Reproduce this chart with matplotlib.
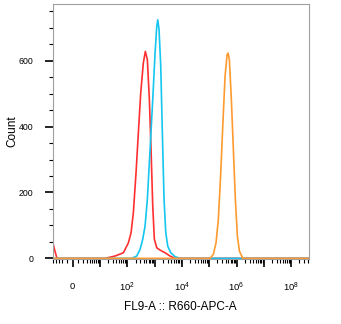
import numpy as np
import matplotlib
matplotlib.use('Agg')
import matplotlib.pyplot as plt
from matplotlib.transforms import ScaledTranslation

plt.rcParams['font.family'] = ['Liberation Sans', 'DejaVu Sans']
plt.rcParams['mathtext.fontset'] = 'custom'
plt.rcParams['mathtext.rm'] = 'Liberation Sans'

# 直方图数据（荧光强度, 计数）
red_x = [-5.1, -4.2, -3.5, 15.3, 35.4, 71.6, 109, 137, 166, 208, 253, 309, 385, 456,
         540, 640, 738, 851, 975, 1194, 1578, 2404, 3664, 5585, 4.5e8]
red_y = [45, 20, 0, 0, 7, 17, 47, 78, 139, 260, 381, 502, 593, 628,
         603, 482, 330, 159, 58, 32, 25, 17, 7, 0, 0]

cyan_x = [-5.1, 145, 221, 292, 366, 445, 540, 679, 851, 1035, 1194, 1300, 1449, 1671,
          1914, 2208, 2552, 3020, 3890, 5585, 8510, 4.5e8]
cyan_y = [0, 0, 7, 27, 58, 98, 179, 330, 482, 623, 704, 724, 694, 583,
          381, 179, 78, 37, 17, 5, 0, 0]

orange_x = [-5.1, 1.07e5, 1.41e5, 1.77e5, 2.15e5, 2.64e5, 3.12e5, 3.79e5, 4.49e5, 4.89e5,
            5.45e5, 6.45e5, 7.64e5, 9.04e5, 1.07e6, 1.27e6, 1.69e6, 4.5e8]
orange_y = [0, 0, 12, 47, 118, 260, 401, 553, 618, 623,
            603, 482, 330, 179, 68, 22, 0, 0]

x_major = [0] + [10 ** n for n in range(1, 9)]
x_labels = {0: '0', 100: r'$\mathregular{10^{2}}$', 10 ** 4: r'$\mathregular{10^{4}}$',
            10 ** 6: r'$\mathregular{10^{6}}$', 10 ** 8: r'$\mathregular{10^{8}}$'}
x_minor = [-k for k in range(1, 6)] + list(range(1, 10)) + \
          [k * 10 ** n for n in range(1, 9) for k in range(2, 10)]
y_major = [0, 200, 400, 600]
y_minor = list(range(50, 800, 50))


# 双指数坐标（近似）
def fwd(x):
    return np.arcsinh(np.asarray(x, dtype=float) / 2.0) / np.log(10)


def inv(y):
    return 2.0 * np.sinh(np.asarray(y, dtype=float) * np.log(10))


fig = plt.figure(figsize=(3.41, 3.24), dpi=100)
ax = fig.add_axes([53 / 341, 65 / 324, 256 / 341, 255 / 324])
ax.set_xscale('function', functions=(fwd, inv))

ax.plot(red_x, red_y, color='#ff3030', lw=1.2)
ax.plot(cyan_x, cyan_y, color='#14c6f0', lw=1.2)
ax.plot(orange_x, orange_y, color='#ff9a30', lw=1.2)

ax.set_xlim(-5.1, 4.5e8)
ax.set_ylim(-2, 772)

ax.set_xticks(x_major)
ax.set_xticklabels([x_labels.get(v, '') for v in x_major])
ax.set_xticks([v for v in x_minor if v < 4.5e8], minor=True)
ax.set_yticks(y_major)
ax.set_yticks([v for v in y_minor if v not in y_major], minor=True)

ax.tick_params(axis='x', which='major', length=6, width=1.2, pad=17, labelsize=6.8)
ax.tick_params(axis='x', which='minor', length=3, width=0.8)
ax.tick_params(axis='y', which='major', length=6, width=1.2, pad=8, labelsize=6.3)
ax.tick_params(axis='y', which='minor', length=3, width=0.8)
plt.setp(ax.get_xticklabels(), va='baseline')
# "0" 与 10^n 基线对齐
lab0 = ax.get_xticklabels()[0]
lab0.set_transform(lab0.get_transform() + ScaledTranslation(0, 1.4 / 72, fig.dpi_scale_trans))

for s in ax.spines.values():
    s.set_color('#a0a0a0')
    s.set_linewidth(0.8)

ax.set_xlabel('FL9-A :: R660-APC-A', fontsize=8.5, va='center')
ax.set_ylabel('Count', fontsize=8.5, va='center')
ax.xaxis.set_label_coords(0.496, -0.19)
ax.yaxis.set_label_coords(-0.157, 0.5)

fig.savefig('out.png', dpi=100)
